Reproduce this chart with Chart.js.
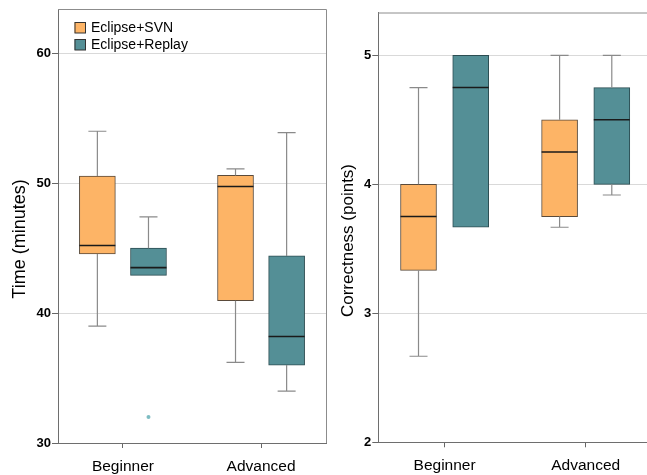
<!DOCTYPE html>
<html>
<head>
<meta charset="utf-8">
<script src="https://cdn.jsdelivr.net/npm/chart.js@4.4.1/dist/chart.umd.min.js"></script>
<style>
  html, body { margin: 0; padding: 0; background: #fff; overflow: hidden; width: 647px; height: 475px; }
  #time_chart { position: absolute; left: 0; top: 0; }
  #correct_chart { position: absolute; left: 330px; top: 0; }
</style>
</head>
<body>
<canvas id="time_chart" width="330" height="475"></canvas>
<canvas id="correct_chart" width="330" height="475"></canvas>
<script>
const categories = ["Beginner", "Advanced"];
const series_names = ["Eclipse+SVN", "Eclipse+Replay"];

// time (minutes)
const time_svn_min = [39.0, 36.2];
const time_svn_q1 = [44.55, 40.95];
const time_svn_med = [45.2, 49.75];
const time_svn_q3 = [50.55, 50.6];
const time_svn_max = [54.0, 51.1];
const time_replay_min = [42.9, 34.0];
const time_replay_q1 = [42.9, 36.0];
const time_replay_med = [43.5, 38.2];
const time_replay_q3 = [45.0, 44.4];
const time_replay_max = [47.4, 53.9];
const time_replay_outliers = [[32.0], []];
const time_ticks = [30, 40, 50, 60];

// correctness (points)
const corr_svn_min = [2.667, 3.667];
const corr_svn_q1 = [3.333, 3.75];
const corr_svn_med = [3.75, 4.25];
const corr_svn_q3 = [4.0, 4.5];
const corr_svn_max = [4.75, 5.0];
const corr_replay_min = [3.667, 3.917];
const corr_replay_q1 = [3.667, 4.0];
const corr_replay_med = [4.75, 4.5];
const corr_replay_q3 = [5.0, 4.75];
const corr_replay_max = [5.0, 5.0];
const corr_replay_outliers = [[], []];
const corr_ticks = [2, 3, 4, 5];

const font_family = "'Liberation Sans', Arial, Helvetica, sans-serif";
const svn_color = "#fdb466";
const replay_color = "#548f96";
const group_offset = 0.185;

// whiskers, medians, frame, legend and y title
const boxExtras = {
  id: "boxExtras",
  afterDatasetsDraw(chart, args, opts) {
    const ctx = chart.ctx;
    const ys = chart.scales.y;
    ctx.save();
    opts.boxes.forEach((b, d) => {
      const meta = chart.getDatasetMeta(d);
      meta.data.forEach((bar, i) => {
        const cx = bar.x;
        const half = bar.width / 2;
        const pq1 = ys.getPixelForValue(b.q1[i]);
        const pq3 = ys.getPixelForValue(b.q3[i]);
        const pmin = ys.getPixelForValue(b.min[i]);
        const pmax = ys.getPixelForValue(b.max[i]);
        const pmed = ys.getPixelForValue(b.med[i]);
        ctx.strokeStyle = "#8a8a8a";
        ctx.lineWidth = 1.2;
        if (b.max[i] > b.q3[i]) {
          ctx.beginPath();
          ctx.moveTo(cx, pq3); ctx.lineTo(cx, pmax);
          ctx.moveTo(cx - half / 2, pmax); ctx.lineTo(cx + half / 2, pmax);
          ctx.stroke();
        }
        if (b.min[i] < b.q1[i]) {
          ctx.beginPath();
          ctx.moveTo(cx, pq1); ctx.lineTo(cx, pmin);
          ctx.moveTo(cx - half / 2, pmin); ctx.lineTo(cx + half / 2, pmin);
          ctx.stroke();
        }
        ctx.strokeStyle = "#1a1a1a";
        ctx.lineWidth = 1.6;
        ctx.beginPath();
        ctx.moveTo(cx - half, pmed); ctx.lineTo(cx + half, pmed);
        ctx.stroke();
      });
    });
    ctx.restore();
  },
  afterDraw(chart, args, opts) {
    const ctx = chart.ctx;
    const a = chart.chartArea;
    ctx.save();
    ctx.strokeStyle = "#8c8c8c";
    ctx.lineWidth = 1;
    ctx.beginPath();
    ctx.moveTo(a.left, a.top + 0.5); ctx.lineTo(a.right + 0.5, a.top + 0.5);
    ctx.lineTo(a.right + 0.5, a.bottom);
    ctx.stroke();

    ctx.fillStyle = "#000";
    ctx.font = opts.title_size + "px " + font_family;
    ctx.textAlign = "center";
    ctx.textBaseline = "middle";
    ctx.translate(opts.title_x, opts.title_y);
    ctx.rotate(-Math.PI / 2);
    ctx.fillText(opts.title, 0, 0);
    ctx.restore();

    if (opts.legend) {
      ctx.save();
      ctx.font = "14px " + font_family;
      ctx.textBaseline = "middle";
      ctx.textAlign = "left";
      chart.data.datasets.slice(0, 2).forEach((ds, k) => {
        const x = a.left + 16.5;
        const y = a.top + 13 + k * 17;
        ctx.fillStyle = ds.backgroundColor;
        ctx.fillRect(x, y, 11, 11);
        ctx.strokeStyle = "#333";
        ctx.lineWidth = 1;
        ctx.strokeRect(x + 0.5, y + 0.5, 10.5, 10.5);
        ctx.fillStyle = "#000";
        ctx.fillText(ds.label, x + 16.5, y + 6);
      });
      ctx.restore();
    }
  },
};

function plot(canvas_name, svn, replay, outliers, y_ticks, y_min, y_max, y_label, layout) {
  const box_data = (b, off) =>
    categories.map((c, i) => ({ x: i + 1 + off, y: [b.q1[i], b.q3[i]] }));
  const outlier_data = [];
  outliers.forEach((list, i) =>
    list.forEach((v) => outlier_data.push({ x: i + 1 + group_offset, y: v }))
  );

  const data = {
    datasets: [
      {
        label: series_names[0],
        data: box_data(svn, -group_offset),
        backgroundColor: svn_color,
        borderColor: "#5a4a3a",
        borderWidth: 1,
        borderSkipped: false,
        grouped: false,
        barThickness: 36,
      },
      {
        label: series_names[1],
        data: box_data(replay, group_offset),
        backgroundColor: replay_color,
        borderColor: "#2c4d52",
        borderWidth: 1,
        borderSkipped: false,
        grouped: false,
        barThickness: 36,
      },
      {
        type: "scatter",
        label: "outliers",
        data: outlier_data,
        backgroundColor: "#7dbcc2",
        borderWidth: 0,
        pointRadius: 2,
      },
    ],
  };

  const config = {
    type: "bar",
    data: data,
    options: {
      animation: false,
      responsive: false,
      layout: {
        padding: { top: layout.top, right: layout.right, left: 0, bottom: 0 },
      },
      plugins: {
        legend: { display: false },
        tooltip: { enabled: false },
        boxExtras: {
          boxes: [svn, replay],
          title: y_label,
          title_x: layout.title_x,
          title_y: layout.title_y,
          title_size: layout.title_size,
          legend: layout.legend,
        },
      },
      scales: {
        x: {
          type: "linear",
          min: 0.53,
          max: 2.47,
          offset: false,
          afterBuildTicks: (scale) => {
            scale.ticks = categories.map((c, i) => ({ value: i + 1 }));
          },
          afterFit: (scale) => {
            scale.height = layout.bottom;
          },
          ticks: {
            callback: (v) => categories[Math.round(v) - 1],
            color: "#000",
            padding: 9,
            maxRotation: 0,
            font: { family: font_family, size: 15.5 },
          },
          grid: {
            offset: false,
            drawOnChartArea: false,
            drawTicks: true,
            tickLength: 5,
            tickColor: "#666",
          },
          border: { color: "#6e6e6e", width: 1 },
        },
        y: {
          min: y_min,
          max: y_max,
          afterBuildTicks: (scale) => {
            scale.ticks = y_ticks.map((v) => ({ value: v }));
          },
          afterFit: (scale) => {
            scale.width = layout.axis_width;
          },
          ticks: {
            color: "#000",
            padding: 1,
            font: { family: font_family, size: 13, weight: "bold" },
          },
          grid: {
            color: "#d9d9d9",
            tickColor: "#666",
            tickLength: 6,
          },
          border: { color: "#6e6e6e", width: 1 },
        },
      },
    },
    plugins: [boxExtras],
  };
  const ctx = document.getElementById(canvas_name);
  return new Chart(ctx, config);
}

plot(
  "time_chart",
  { min: time_svn_min, q1: time_svn_q1, med: time_svn_med, q3: time_svn_q3, max: time_svn_max },
  { min: time_replay_min, q1: time_replay_q1, med: time_replay_med, q3: time_replay_q3, max: time_replay_max },
  time_replay_outliers,
  time_ticks,
  30,
  63.41,
  "Time (minutes)",
  { top: 9, right: 4, bottom: 32, axis_width: 58, title_x: 20, title_y: 239, title_size: 18, legend: true }
);

plot(
  "correct_chart",
  { min: corr_svn_min, q1: corr_svn_q1, med: corr_svn_med, q3: corr_svn_q3, max: corr_svn_max },
  { min: corr_replay_min, q1: corr_replay_q1, med: corr_replay_med, q3: corr_replay_q3, max: corr_replay_max },
  corr_replay_outliers,
  corr_ticks,
  2,
  5.332,
  "Correctness (points)",
  { top: 12.5, right: 8, bottom: 32.7, axis_width: 48.3, title_x: 18, title_y: 240.5, title_size: 17, legend: false }
);
</script>
</body>
</html>
